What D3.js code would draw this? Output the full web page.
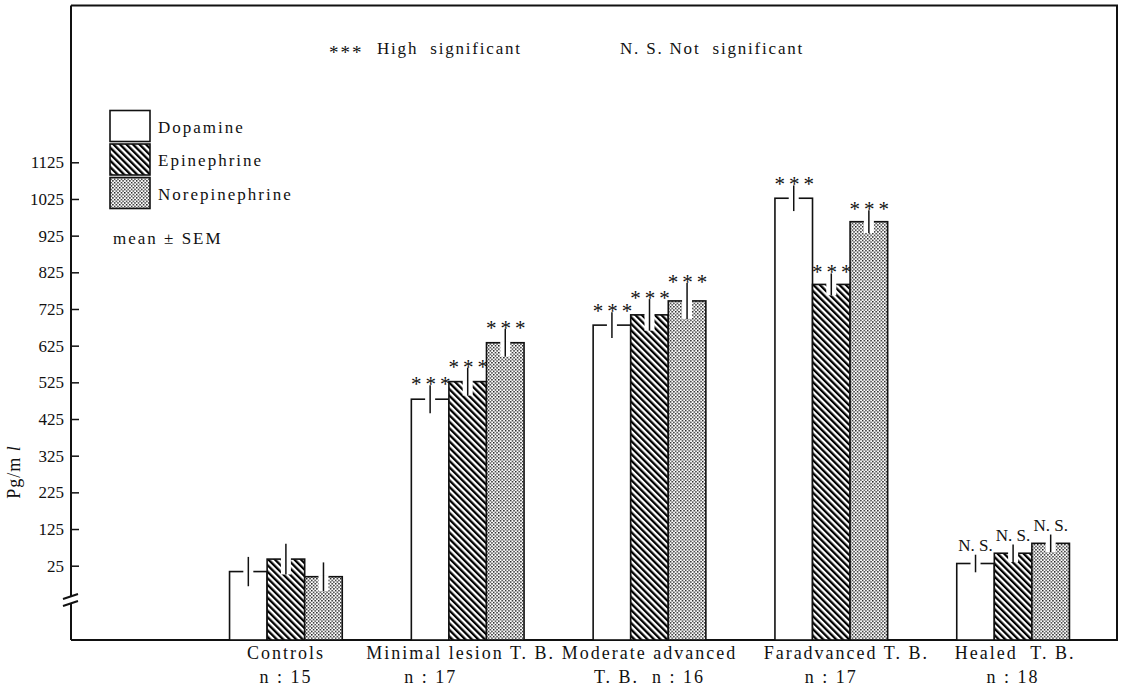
<!DOCTYPE html>
<html>
<head>
<meta charset="utf-8">
<script src="https://cdn.jsdelivr.net/npm/d3@7"></script>
<style>
  html, body { margin: 0; padding: 0; background: #fff; }
  svg { display: block; }
  svg text { font-family: "Liberation Serif", "DejaVu Serif", serif; white-space: pre; }
</style>
</head>
<body>
<div id="chart"></div>
<script>
// Groups and tick labels
const groups = ['Controls', 'Minimal lesion T. B.', 'Moderate advanced T. B.', 'Faradvanced T. B.', 'Healed T. B.'];
const labelLine1 = ['Controls', 'Minimal lesion T. B.', 'Moderate advanced', 'Faradvanced T. B.', 'Healed  T. B.'];
const labelLine2 = ['n : 15', 'n : 17', 'T. B.  n : 16', 'n : 17', 'n : 18'];
const yTicks = [25, 125, 225, 325, 425, 525, 625, 725, 825, 925, 1025, 1125];

// Series (Pg/ml, mean and SEM)
const seriesNames = ['Dopamine', 'Epinephrine', 'Norepinephrine'];
const dopamine = [9, 479, 681, 1027, 31];
const epinephrine = [43, 527, 709, 792, 59];
const norepinephrine = [-5, 633, 747, 963, 86];
const dopamineSem = [40, 38, 35, 35, 24];
const epinephrineSem = [42, 38, 43, 30, 24];
const norepinephrineSem = [39, 38, 49, 31, 24];
const significance = ['', '***', '***', '***', 'N. S.'];

const W = 1123, H = 689;
const plotLeft = 71, plotRight = 1117, plotTop = 5.5, plotBottom = 640;
const FONT = 'Liberation Serif';

const svg = d3.select('#chart').append('svg')
  .attr('width', W).attr('height', H);

// patterns
const defs = svg.append('defs');
const hatch = defs.append('pattern')
  .attr('id', 'hatch')
  .attr('patternUnits', 'userSpaceOnUse')
  .attr('width', 4.6).attr('height', 10)
  .attr('patternTransform', 'rotate(-45)');
hatch.append('rect').attr('width', 4.6).attr('height', 10).attr('fill', '#fff');
hatch.append('rect').attr('width', 2.3).attr('height', 10).attr('fill', '#000');

const dots = defs.append('pattern')
  .attr('id', 'dots')
  .attr('patternUnits', 'userSpaceOnUse')
  .attr('width', 3.4).attr('height', 3.4);
dots.append('rect').attr('width', 3.4).attr('height', 3.4).attr('fill', '#fff');
dots.append('rect').attr('x', 0).attr('y', 0).attr('width', 1.4).attr('height', 1.4).attr('fill', '#111');
dots.append('rect').attr('x', 1.7).attr('y', 1.7).attr('width', 1.4).attr('height', 1.4).attr('fill', '#111');

const fills = ['#fff', 'url(#hatch)', 'url(#dots)'];

// scales
const y = d3.scaleLinear().domain([25, 1125]).range([565.7, 162.3]);
const x0 = d3.scaleBand().domain(groups).range([195, 1104]).paddingInner(0.38).paddingOuter(0.19);
const x1 = d3.scaleBand().domain(seriesNames).range([0, x0.bandwidth()]);

function label(sel, size, spacing) {
  return sel.attr('font-family', FONT)
    .style('font-family', FONT)
    .style('font-size', size + 'px')
    .style('letter-spacing', spacing + 'px')
    .attr('fill', '#111');
}

// frame
svg.append('path')
  .attr('d', `M${plotLeft},${plotTop}H${plotRight}V${plotBottom}H${plotLeft}`)
  .attr('fill', 'none').attr('stroke', '#111').attr('stroke-width', 2);

// y axis with break
svg.append('path')
  .attr('d', `M${plotLeft},${plotTop}V597M${plotLeft},603V${plotBottom}`)
  .attr('fill', 'none').attr('stroke', '#111').attr('stroke-width', 2);
svg.append('path')
  .attr('d', 'M63,599L78,594M63,606L78,601')
  .attr('fill', 'none').attr('stroke', '#111').attr('stroke-width', 2);

const yAxis = svg.append('g')
  .attr('transform', `translate(${plotLeft},0)`)
  .call(d3.axisLeft(y).tickValues(yTicks).tickFormat(d3.format('d'))
    .tickSizeInner(-8).tickSizeOuter(0).tickPadding(7));
yAxis.attr('font-family', FONT);
yAxis.select('.domain').remove();
yAxis.selectAll('line').attr('stroke', '#111').attr('stroke-width', 1.5);
label(yAxis.selectAll('text'), 17, 0);

// y label
svg.append('text')
  .attr('transform', 'translate(20,472) rotate(-90)')
  .attr('text-anchor', 'middle')
  .call(t => label(t, 18, 1))
  .call(t => {
    t.append('tspan').text('Pg/m ');
    t.append('tspan').style('font-style', 'italic').text('l');
  });

// bars
const seriesValues = [dopamine, epinephrine, norepinephrine];
const seriesSems = [dopamineSem, epinephrineSem, norepinephrineSem];
const rows = [];
groups.forEach((g, gi) => {
  seriesNames.forEach((s, si) => {
    rows.push({ group: g, series: s, si, gi, value: seriesValues[si][gi], sem: seriesSems[si][gi], sig: significance[gi] });
  });
});

const barG = svg.append('g');
const bars = barG.selectAll('g.bar').data(rows).join('g').attr('class', 'bar');
const cx = d => x0(d.group) + x1(d.series) + x1.bandwidth() / 2;

bars.append('rect')
  .attr('x', d => x0(d.group) + x1(d.series))
  .attr('y', d => y(d.value))
  .attr('width', x1.bandwidth())
  .attr('height', d => plotBottom - y(d.value))
  .attr('fill', d => fills[d.si])
  .attr('stroke', '#111').attr('stroke-width', 1.6);

// white notch around each error line
bars.append('rect')
  .attr('x', d => cx(d) - 5)
  .attr('y', d => y(d.value) - 1.5)
  .attr('width', 10)
  .attr('height', d => y(d.value - d.sem) - y(d.value) + 1.5)
  .attr('fill', '#fff');

bars.append('line')
  .attr('x1', cx).attr('x2', cx)
  .attr('y1', d => y(d.value + d.sem))
  .attr('y2', d => y(d.value - d.sem))
  .attr('stroke', '#111').attr('stroke-width', 1.5);

// significance marks
bars.filter(d => d.sig === '***').append('text')
  .attr('x', cx)
  .attr('y', d => y(d.value + d.sem) + 6)
  .attr('dx', 2.5)
  .attr('text-anchor', 'middle')
  .call(t => label(t, 21, 4))
  .text(d => d.sig);
bars.filter(d => d.sig === 'N. S.').append('text')
  .attr('x', cx)
  .attr('y', d => y(d.value + d.sem) - 3.5)
  .attr('text-anchor', 'middle')
  .call(t => label(t, 17, 0))
  .text(d => d.sig);

// category labels
const line1Shift = [0, -7, 0, 15, 2];
const line2Shift = [0, -37, 0, 0, 0];
groups.forEach((g, i) => {
  const gx = x0(g) + x0.bandwidth() / 2;
  svg.append('text')
    .attr('x', gx + line1Shift[i]).attr('y', 659)
    .attr('text-anchor', 'middle')
    .call(t => label(t, 18, 2))
    .text(labelLine1[i]);
  svg.append('text')
    .attr('x', gx + line2Shift[i]).attr('y', 683)
    .attr('text-anchor', 'middle')
    .call(t => label(t, 18, 2))
    .text(labelLine2[i]);
});

// legend
const legend = svg.append('g');
seriesNames.forEach((s, i) => {
  const yy = 110.5 + i * 33.5;
  legend.append('rect')
    .attr('x', 110).attr('y', yy).attr('width', 40).attr('height', 31)
    .attr('fill', fills[i]).attr('stroke', '#111').attr('stroke-width', 1.6);
  legend.append('text')
    .attr('x', 158).attr('y', yy + 22)
    .call(t => label(t, 17, 2))
    .text(s);
});
legend.append('text')
  .attr('x', 113).attr('y', 244)
  .call(t => label(t, 17, 2))
  .text('mean \u00B1 SEM');

// notes on top
svg.append('text')
  .attr('x', 329).attr('y', 59)
  .call(t => label(t, 19, 2))
  .text('***');
svg.append('text')
  .attr('x', 377).attr('y', 54)
  .call(t => label(t, 17, 1.8))
  .text('High  significant');
svg.append('text')
  .attr('x', 620).attr('y', 54)
  .call(t => label(t, 17, 1.8))
  .text('N. S. Not  significant');
</script>
</body>
</html>
